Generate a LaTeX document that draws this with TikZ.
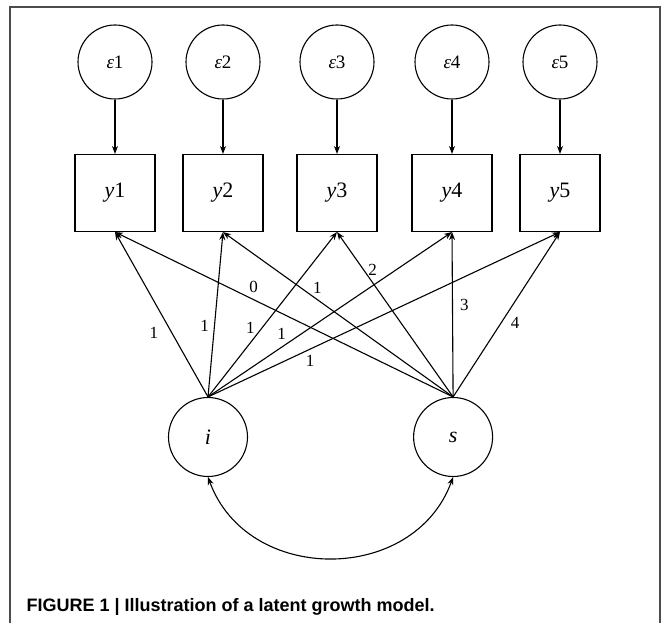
\documentclass[tikz,border=0pt]{standalone}
\usepackage{fontspec}
\setmainfont{Liberation Serif}
\newfontfamily\capfont{Liberation Sans}
\usetikzlibrary{arrows.meta, positioning}

\begin{document}
\begin{tikzpicture}[x=1pt, y=-1pt, line width=1.1pt,
     obs/.style = {draw, rectangle, minimum width=80pt, minimum height=77pt,
                   font=\fontsize{22}{22}\selectfont},
     err/.style = {draw, circle, minimum size=74pt,
                   font=\fontsize{19}{19}\selectfont},
     lat/.style = {draw, circle, minimum size=79pt,
                   font=\fontsize{22}{22}\selectfont},
   arrow/.style = {-{Stealth[length=8pt,width=6pt]}},
    load/.style = {font=\fontsize{17}{17}\selectfont, inner sep=2pt}
                    ]
\useasboundingbox (0,0) rectangle (665,623);
% frame
\draw[gray!60!black, line width=1.5pt] (10,623) |- (660,7) -- (660,623);
% error terms and observed
\foreach \n/\x in {1/115, 2/223, 3/337, 4/452, 5/560}{
  \node (e\n) [err] at (\x,62)  {\textit{ε}\n};
  \node (y\n) [obs] at (\x,193) {\textit{y}\n};
  \draw[arrow] (e\n) -- (y\n);
}
% latent
\node (i) [lat] at (208,437)     {\textit{i}};
\node (s) [lat, right=165pt of i] {\textit{s}};
% intercept
\draw[arrow] (i.north) -- node[load, pos=.39, left=11pt] {1} (y1.south);
\draw[arrow] (i.north) -- node[load, pos=.43, left=3pt]  {1} (y2.south);
\draw[arrow] (i.north) -- node[load, pos=.42, left=5pt]  {1} (y3.south);
\draw[arrow] (i.north) -- node[load, pos=.33, above left=0pt] {1} (y4.south);
\draw[arrow] (i.north) -- node[load, pos=.29, below=4pt] {1} (y5.south);
% slope
\draw[arrow] (s.north) -- node[load, pos=.59, above=4pt] {0} (y1.south);
\draw[arrow] (s.north) -- node[load, pos=.59, above=4pt] {1} (y2.south);
\draw[arrow] (s.north) -- node[load, pos=.77, right=2pt] {2} (y3.south);
\draw[arrow] (s.north) -- node[load, pos=.56, right=5pt] {3} (y4.south);
\draw[arrow] (s.north) -- node[load, pos=.45, right=7pt] {4} (y5.south);
% covariance
\draw[{Stealth[length=8pt,width=6pt]}-{Stealth[length=8pt,width=6pt]}]
  (i.south) to[out=-70, in=-110, looseness=1.2] (s.south);
% caption
\node (cap) [anchor=base west, inner sep=0pt,
             font=\capfont\bfseries\fontsize{18}{18}\selectfont]
  at (26,611) {FIGURE 1 | Illustration of a latent growth model.};
\end{tikzpicture}
\end{document}
